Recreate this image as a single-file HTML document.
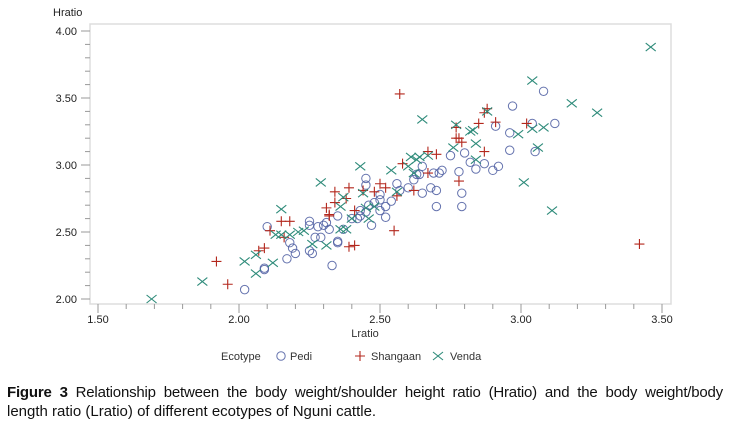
<!DOCTYPE html>
<html><head><meta charset="utf-8"><style>
body{margin:0;background:#fff;width:730px;height:424px;overflow:hidden;font-family:"Liberation Sans",sans-serif}
svg{position:absolute;left:0;top:0}
#cap{position:absolute;left:7px;top:383px;width:716px;font-size:15px;line-height:19px;color:#111}
#cap .l1{text-align:justify;text-align-last:justify;white-space:nowrap;letter-spacing:-0.2px}
</style></head><body>
<svg id="chart" width="730" height="380" font-family="Liberation Sans, sans-serif"></svg>
<div id="cap"><div class="l1"><b>Figure 3</b> Relationship between the body weight/shoulder height ratio (Hratio) and the body weight/body</div><div>length ratio (Lratio) of different ecotypes of Nguni cattle.</div></div>
<script>
const xTicks=["1.50","2.00","2.50","3.00","3.50"];
const yTicks=["2.00","2.50","3.00","3.50","4.00"];
const pediL=[2.02,2.09,2.09,2.10,2.17,2.18,2.19,2.20,2.25,2.25,2.26,2.27,2.29,2.28,2.30,2.32,2.33,2.35,2.35,2.40,2.43,2.37,2.25,2.45,2.45,2.50,2.56,2.57,2.60,2.62,2.64,2.65,2.69,2.71,2.72,2.68,2.70,2.70,2.50,2.48,2.46,2.54,2.52,2.50,2.43,2.45,2.42,2.52,2.47,2.31,2.35,3.08,2.97,2.91,2.96,3.04,3.12,3.05,2.96,2.80,2.75,2.82,2.87,2.92,2.90,2.84,2.78,2.79,2.79,2.65,2.63];
const pediH=[2.07,2.23,2.22,2.54,2.30,2.42,2.38,2.34,2.58,2.36,2.34,2.46,2.46,2.54,2.55,2.52,2.25,2.42,2.62,2.60,2.62,2.52,2.55,2.90,2.85,2.78,2.86,2.81,2.83,2.89,2.93,2.99,2.94,2.94,2.96,2.83,2.81,2.69,2.74,2.72,2.70,2.73,2.69,2.66,2.66,2.65,2.60,2.61,2.55,2.57,2.43,3.55,3.44,3.29,3.24,3.31,3.31,3.10,3.11,3.09,3.07,3.02,3.01,2.99,2.96,2.97,2.95,2.79,2.69,2.79,2.93];
const shanL=[1.92,1.96,2.07,2.09,2.11,2.16,2.15,2.18,2.31,2.32,2.39,2.41,2.34,2.39,2.34,2.38,2.44,2.48,2.50,2.52,2.56,2.62,2.41,2.32,2.55,2.58,2.67,2.70,2.67,2.77,2.88,2.87,2.85,2.91,2.77,2.78,2.79,2.87,3.02,2.78,2.57,3.42];
const shanH=[2.28,2.11,2.36,2.38,2.51,2.46,2.58,2.58,2.68,2.63,2.39,2.40,2.80,2.83,2.72,2.75,2.81,2.80,2.86,2.83,2.77,2.81,2.66,2.62,2.51,3.01,3.10,3.08,2.94,3.20,3.42,3.39,3.31,3.32,3.28,3.20,3.17,3.10,3.31,2.88,3.53,2.41];
const vendL=[1.69,1.87,2.02,2.06,2.06,2.12,2.13,2.15,2.18,2.21,2.23,2.26,2.31,2.36,2.38,2.15,2.29,2.43,2.37,2.36,2.44,2.45,2.48,2.46,2.40,2.54,2.56,2.60,2.61,2.63,2.64,2.67,2.62,2.76,2.65,2.77,2.83,2.82,2.84,2.84,2.88,2.99,3.04,3.08,3.06,3.01,3.11,3.04,3.18,3.27,3.46];
const vendH=[2.00,2.13,2.28,2.19,2.33,2.27,2.48,2.48,2.48,2.50,2.51,2.41,2.40,2.52,2.52,2.67,2.87,2.99,2.76,2.69,2.79,2.68,2.69,2.60,2.60,2.96,2.80,2.99,3.06,3.04,3.06,3.07,2.94,3.13,3.34,3.30,3.26,3.25,3.16,3.04,3.40,3.23,3.27,3.28,3.13,2.87,2.66,3.63,3.46,3.39,3.88];

const NS="http://www.w3.org/2000/svg";
const svg=document.getElementById('chart');
const X0=90,X1=671,Y0=24,Y1=304;
const sx=v=>239+(v-2)*282;
const sy=v=>299-(v-2)*134;
function mk(t,a){const e=document.createElementNS(NS,t);for(const k in a)e.setAttribute(k,a[k]);svg.appendChild(e);return e;}
const frame=mk('rect',{x:X0,y:Y0,width:X1-X0,height:Y1-Y0,fill:'none',stroke:'#ddd','stroke-width':1.5});


for(let v=2.0;v<=4.0001;v+=0.1){
  const y=sy(v);const major=Math.abs(v*2-Math.round(v*2))<1e-6;
  const t=mk('line',{x1:X0-(major?9:5),x2:X0,y1:y,y2:y,stroke:'#999','stroke-width':1});
  
  
}
for(let v=1.5;v<=3.5001;v+=0.1){
  const x=sx(v);const major=Math.abs(v*2-Math.round(v*2))<1e-6;
  const t=mk('line',{x1:x,x2:x,y1:Y1,y2:Y1+(major?9:5),stroke:'#999','stroke-width':1});
  
  
}
yTicks.forEach(s=>{const t=mk('text',{x:77,y:sy(+s)+4,'text-anchor':'end','font-size':11,fill:'#222'});t.textContent=s;
  
  });
xTicks.forEach(s=>{const t=mk('text',{x:sx(+s),y:323,'text-anchor':'middle','font-size':11,fill:'#222'});t.textContent=s;
  
  });
const xt=mk('text',{x:365,y:337,'text-anchor':'middle','font-size':11,fill:'#333'});xt.textContent='Lratio';


const yt=mk('text',{x:53,y:16,'font-size':11,fill:'#222'});yt.textContent='Hratio';


const CP='#4a5aa0',CS='#b3271c',CV='#2e8b7a';
function circ(x,y){return mk('circle',{cx:x,cy:y,r:4.2,fill:'none',stroke:CP,'stroke-width':1,'stroke-opacity':0.85});}
function plus(x,y){return mk('path',{d:`M${x-5} ${y}H${x+5}M${x} ${y-5}V${y+5}`,stroke:CS,'stroke-width':1.1,fill:'none'});}
function cross(x,y){return mk('path',{d:`M${x-5} ${y-4}L${x+5} ${y+4}M${x-5} ${y+4}L${x+5} ${y-4}`,stroke:CV,'stroke-width':1.1,fill:'none'});}
pediL.forEach((l,i)=>{const e=circ(sx(l),sy(pediH[i]));
  
  });
shanL.forEach((l,i)=>{const e=plus(sx(l),sy(shanH[i]));
  
  });
vendL.forEach((l,i)=>{const e=cross(sx(l),sy(vendH[i]));
  
  });
const lg=mk('text',{x:221,y:360,'font-size':11,fill:'#333'});lg.textContent='Ecotype';


const lc=circ(281,356);


const lp=mk('text',{x:290,y:360,'font-size':11,fill:'#333'});lp.textContent='Pedi';


const ls=plus(360,356);


const lst=mk('text',{x:371,y:360,'font-size':11,fill:'#333'});lst.textContent='Shangaan';


const lv=cross(438,356);


const lvt=mk('text',{x:450,y:360,'font-size':11,fill:'#333'});lvt.textContent='Venda';


</script>
</body></html>
